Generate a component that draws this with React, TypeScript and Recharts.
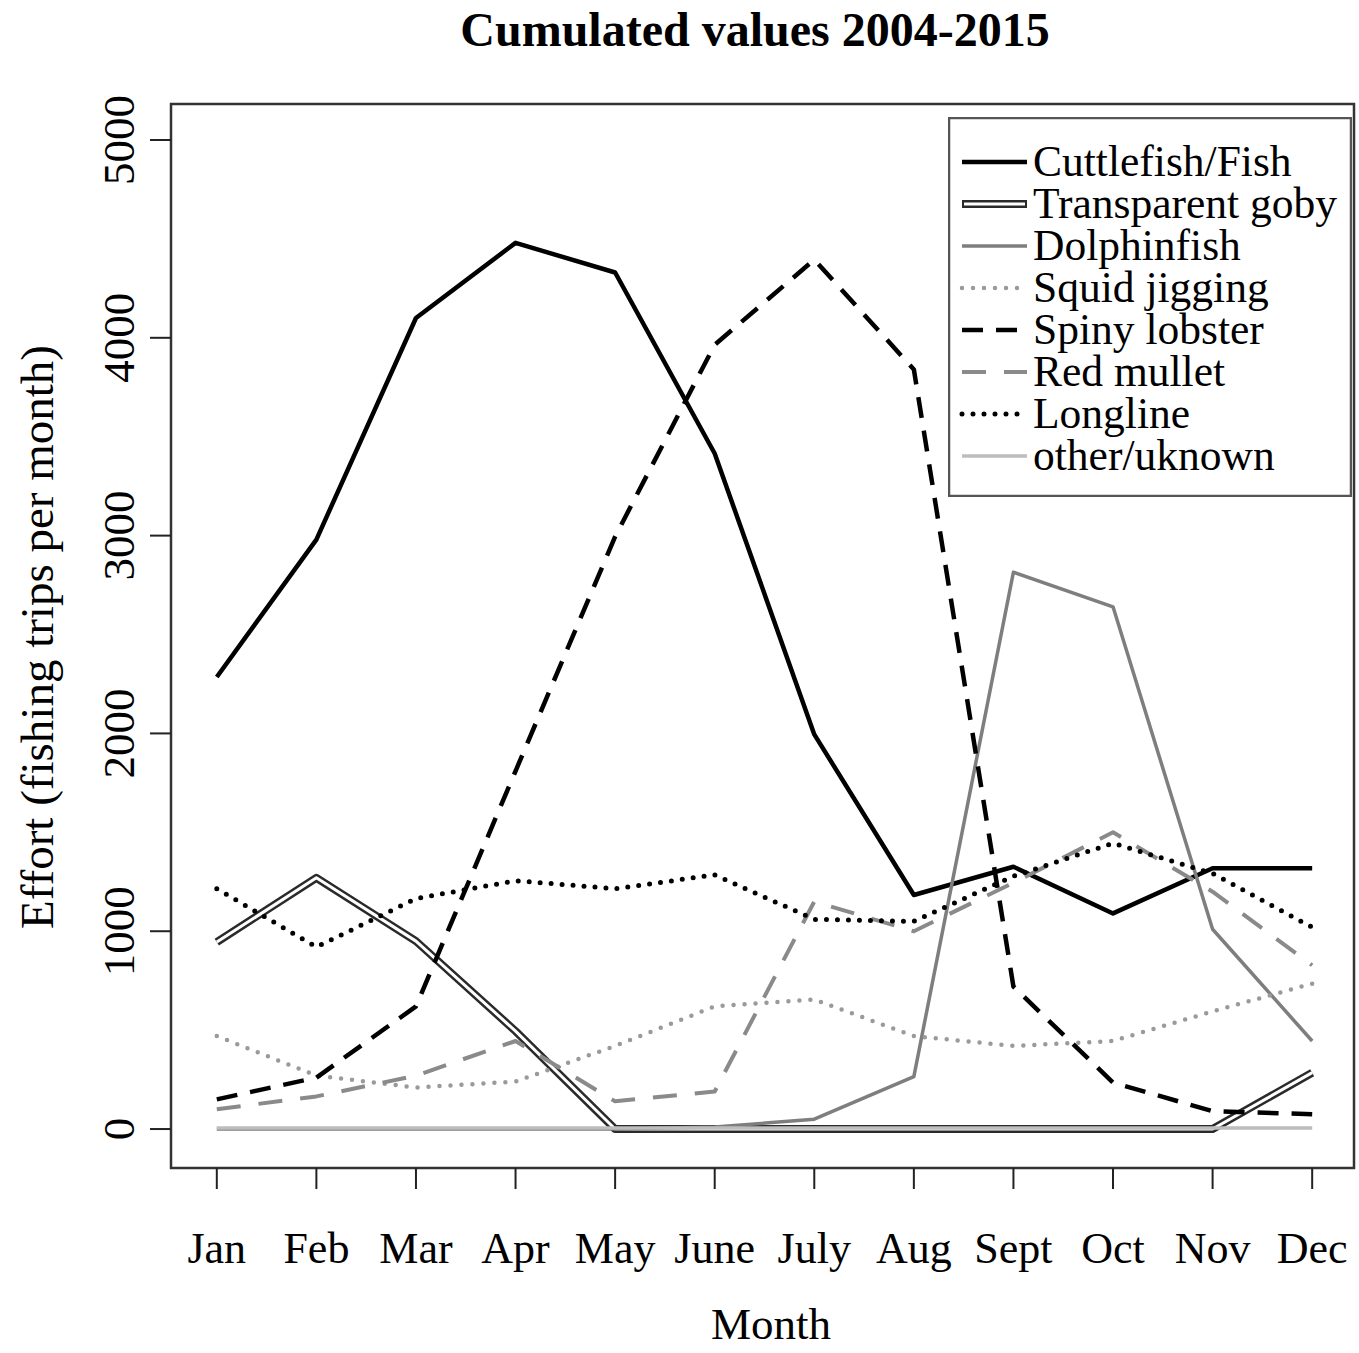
import { LineChart, Line, XAxis, YAxis, Legend, ReferenceArea } from "recharts";

// Monthly fishing effort per métier, cumulated over 2004-2015
const MONTHS = ["Jan", "Feb", "Mar", "Apr", "May", "June", "July", "Aug", "Sept", "Oct", "Nov", "Dec"];
const cuttlefish = [2285, 2980, 4100, 4480, 4330, 3415, 1995, 1183, 1326, 1090, 1318, 1318];
const goby = [945, 1270, 950, 495, 0, 0, 0, 0, 0, 0, 0, 285];
const dolphinfish = [0, 0, 0, 0, 0, 10, 50, 265, 2815, 2640, 1010, 445];
const squid = [470, 270, 210, 240, 420, 620, 655, 470, 420, 445, 595, 735];
const lobster = [150, 260, 620, 1810, 2995, 3965, 4395, 3840, 720, 235, 90, 75];
const mullet = [100, 165, 270, 445, 140, 190, 1150, 1000, 1245, 1500, 1200, 828];
const longline = [1215, 920, 1165, 1255, 1215, 1285, 1060, 1050, 1278, 1445, 1292, 1020];
const other = [5, 5, 5, 5, 5, 5, 5, 5, 5, 5, 5, 5];
const Y_TICKS = [0, 1000, 2000, 3000, 4000, 5000];

const data = MONTHS.map((_, i) => ({
  month: i + 1,
  cuttlefish: cuttlefish[i],
  goby: goby[i],
  dolphinfish: dolphinfish[i],
  squid: squid[i],
  lobster: lobster[i],
  mullet: mullet[i],
  longline: longline[i],
  other: other[i],
}));

const FONT = "'Liberation Serif', 'Times New Roman', serif";

type Style = { key: string; name: string; stroke: string; width: number; dash?: string; cap?: "round" | "butt"; inner?: boolean };

// drawing order follows the legend order
const SERIES: Style[] = [
  { key: "cuttlefish", name: "Cuttlefish/Fish", stroke: "#000", width: 4.5 },
  { key: "goby", name: "Transparent goby", stroke: "#2a2a2a", width: 8, inner: true },
  { key: "dolphinfish", name: "Dolphinfish", stroke: "#7e7e7e", width: 3.5 },
  { key: "squid", name: "Squid jigging", stroke: "#9a9a9a", width: 4.5, dash: "0 11", cap: "round" },
  { key: "lobster", name: "Spiny lobster", stroke: "#000", width: 4.5, dash: "21 13" },
  { key: "mullet", name: "Red mullet", stroke: "#8a8a8a", width: 4, dash: "24 18" },
  { key: "longline", name: "Longline", stroke: "#000", width: 5, dash: "0 11", cap: "round" },
  { key: "other", name: "other/uknown", stroke: "#bdbdbd", width: 3.5 },
];

function XTick(props: any) {
  const { x, y, payload } = props;
  return (
    <text x={x} y={y + 72} textAnchor="middle" fontFamily={FONT} fontSize={44} fill="#000">
      {MONTHS[payload.value - 1]}
    </text>
  );
}

function YTick(props: any) {
  const { y, payload } = props;
  return (
    <text transform={`translate(134,${y}) rotate(-90)`} textAnchor="middle" fontFamily={FONT} fontSize={45} fill="#000">
      {payload.value}
    </text>
  );
}

function LegendBox() {
  return (
    <svg width={404} height={380} style={{ display: "block" }}>
      <rect x={1} y={1} width={402} height={378} fill="#fff" stroke="#555" strokeWidth={2.5} />
      {SERIES.map((s, i) => {
        const cy = 45 + i * 42;
        return (
          <g key={s.key}>
            <line x1={14} x2={79} y1={cy} y2={cy} stroke={s.stroke} strokeWidth={s.width} strokeDasharray={s.dash} strokeLinecap={s.cap ?? "butt"} />
            {s.inner && <line x1={16} x2={77} y1={cy} y2={cy} stroke="#fff" strokeWidth={3} />}
            <text x={85} y={cy + 14} fontFamily={FONT} fontSize={43.5} fill="#000">
              {s.name}
            </text>
          </g>
        );
      })}
    </svg>
  );
}

export default function App() {
  return (
    <div style={{ position: "absolute", left: 0, top: 0, width: 1359, height: 1353, background: "#fff" }}>
      <LineChart width={1359} height={1353} data={data} margin={{ top: 104, right: 5, left: 0, bottom: 0 }}>
        <XAxis
          dataKey="month"
          type="number"
          domain={[0.54, 12.42]}
          ticks={[1, 2, 3, 4, 5, 6, 7, 8, 9, 10, 11, 12]}
          allowDataOverflow
          height={185}
          tickSize={21}
          axisLine={false}
          tickLine={{ stroke: "#222", strokeWidth: 2 }}
          tick={<XTick />}
        />
        <YAxis
          type="number"
          domain={[-197, 5182]}
          ticks={Y_TICKS}
          allowDataOverflow
          width={171}
          tickSize={21}
          axisLine={false}
          tickLine={{ stroke: "#222", strokeWidth: 2 }}
          tick={<YTick />}
        />
        {SERIES.flatMap((s) => {
          const lines = [
            <Line
              key={s.key}
              dataKey={s.key}
              name={s.name}
              type="linear"
              stroke={s.stroke}
              strokeWidth={s.width}
              strokeDasharray={s.dash}
              strokeLinecap={s.cap ?? "butt"}
              strokeLinejoin="round"
              dot={false}
              activeDot={false}
              isAnimationActive={false}
            />,
          ];
          // white core gives the goby series its double-line look
          if (s.inner) {
            lines.push(
              <Line
                key={s.key + "-core"}
                dataKey={s.key}
                name={s.name + " core"}
                type="linear"
                stroke="#fff"
                strokeWidth={3}
                strokeLinejoin="round"
                dot={false}
                activeDot={false}
                legendType="none"
                isAnimationActive={false}
              />
            );
          }
          return lines;
        })}
        <ReferenceArea
          x1={0.54}
          x2={12.42}
          y1={-197}
          y2={5182}
          fill="none"
          stroke="#333"
          strokeWidth={2.5}
          ifOverflow="visible"
        />
        <Legend
          layout="vertical"
          align="center"
          verticalAlign="middle"
          content={() => <LegendBox />}
          wrapperStyle={{ position: "absolute", left: 948, top: 117, width: 404, height: 380 }}
        />
      </LineChart>
      <svg width={1359} height={1353} style={{ position: "absolute", left: 0, top: 0, pointerEvents: "none" }}>
        <text x={755} y={46} textAnchor="middle" fontFamily={FONT} fontWeight="bold" fontSize={48} fill="#000">
          Cumulated values 2004-2015
        </text>
        <text x={771} y={1339} textAnchor="middle" fontFamily={FONT} fontSize={45} fill="#000">
          Month
        </text>
        <text transform="translate(53,637) rotate(-90)" textAnchor="middle" fontFamily={FONT} fontSize={47} fill="#000">
          Effort (fishing trips per month)
        </text>
      </svg>
    </div>
  );
}
